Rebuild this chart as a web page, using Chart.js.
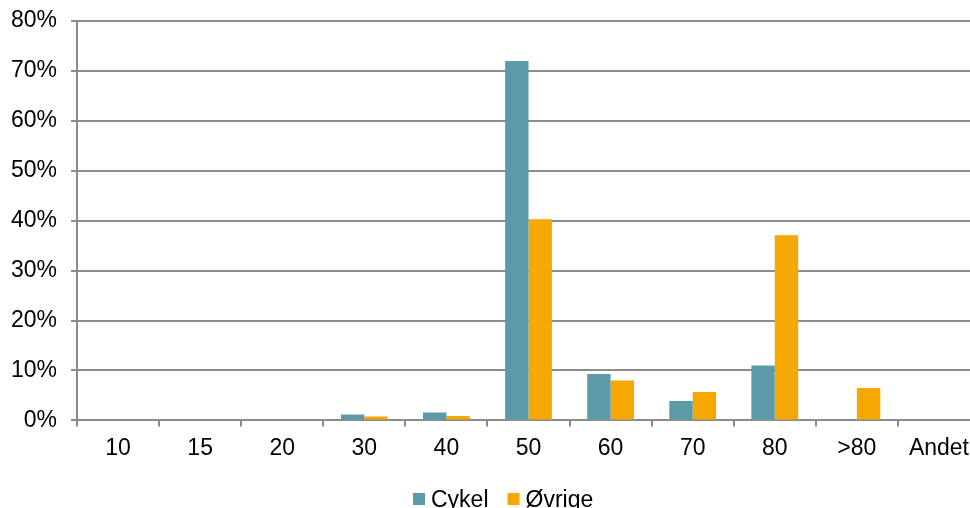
<!DOCTYPE html>
<html>
<head>
<meta charset="utf-8">
<script src="https://cdn.jsdelivr.net/npm/chart.js@4/dist/chart.umd.min.js"></script>
<style>
  html, body { margin: 0; padding: 0; overflow: hidden; background: #fff; }
  #wrap { position: relative; width: 980px; height: 508px; }
</style>
</head>
<body>
<div id="wrap"><canvas id="c" width="980" height="508"></canvas></div>
<script>
// Speed limit categories (km/h)
const categories = ['10', '15', '20', '30', '40', '50', '60', '70', '80', '>80', 'Andet'];
// Share of road segments per speed limit, in percent
const cykel  = [0.2, 0, 0.1, 1.2, 1.6, 72.0, 9.3, 3.9, 11.0, 0.1, 0];
const ovrige = [0, 0, 0, 0.8, 0.9, 40.3, 8.0, 5.7, 37.1, 6.5, 0];
const seriesNames = ['Cykel', 'Øvrige'];
const seriesColors = ['#5b9ba8', '#f5a800'];
const yTicks = [0, 10, 20, 30, 40, 50, 60, 70, 80];

const gridGray = '#8c8c8c';
const fontFamily = '"Liberation Sans", Arial, sans-serif';
const font = { family: fontFamily, size: 23 };

// Legend drawn as a single row: square swatch, text, next item
const bottomLegend = {
  id: 'bottomLegend',
  afterDraw(chart) {
    const ctx = chart.ctx;
    ctx.save();
    ctx.font = font.size + 'px ' + fontFamily;
    ctx.textBaseline = 'alphabetic';
    ctx.textAlign = 'left';
    const box = 12, gap = 6, itemGap = 19, boxTop = 493, baseline = 507;
    let x = 413;
    chart.data.datasets.forEach((ds) => {
      ctx.fillStyle = ds.backgroundColor;
      ctx.fillRect(x, boxTop, box, box);
      x += box + gap;
      ctx.fillStyle = '#000';
      ctx.fillText(ds.label, x, baseline);
      x += ctx.measureText(ds.label).width + itemGap;
    });
    ctx.restore();
  }
};

new Chart(document.getElementById('c'), {
  type: 'bar',
  data: {
    labels: categories,
    datasets: [
      { label: seriesNames[0], data: cykel, backgroundColor: seriesColors[0] },
      { label: seriesNames[1], data: ovrige, backgroundColor: seriesColors[1] }
    ]
  },
  options: {
    responsive: false,
    animation: false,
    devicePixelRatio: 1,
    categoryPercentage: 0.57,
    barPercentage: 1.0,
    layout: { padding: { left: 0, right: 0, top: 21, bottom: 38 } },
    plugins: {
      tooltip: { enabled: false },
      legend: { display: false }
    },
    scales: {
      x: {
        grid: { drawOnChartArea: false, drawTicks: true, tickLength: 6, color: gridGray, lineWidth: 2 },
        border: { color: gridGray, width: 2 },
        ticks: { font: font, color: '#000', padding: 8, maxRotation: 0, autoSkip: false }
      },
      y: {
        min: 0,
        max: 80,
        afterBuildTicks: (s) => { s.ticks = yTicks.map(v => ({ value: v })); },
        afterFit: (s) => { s.width = 77; s.paddingTop = 0; s.paddingBottom = 0; },
        grid: { color: gridGray, lineWidth: 2, tickLength: 6 },
        border: { color: gridGray, width: 2 },
        ticks: { font: font, color: '#000', padding: 14, callback: (v) => v + '%' }
      }
    }
  },
  plugins: [bottomLegend]
});
</script>
</body>
</html>
